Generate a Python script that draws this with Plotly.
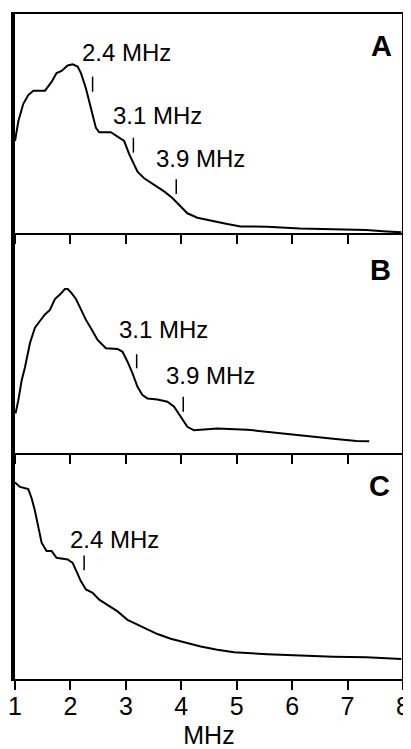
import plotly.graph_objects as go

# ---------------- data (MHz, relative intensity 0..1 within each panel) ----------------
a_mhz = [1.00, 1.06, 1.15, 1.24, 1.33, 1.54, 1.66, 1.75, 1.84, 1.95, 2.04, 2.13, 2.19, 2.28, 2.37,
         2.46, 2.52, 2.73, 2.85, 2.97, 3.06, 3.15, 3.21, 3.33, 3.51, 3.69, 3.84, 3.99, 4.11, 4.29,
         4.53, 4.83, 5.07, 5.55, 6.14, 6.74, 7.34, 7.64, 7.97]
a_int = [0.42, 0.51, 0.59, 0.63, 0.65, 0.65, 0.69, 0.73, 0.74, 0.765, 0.77, 0.76, 0.73, 0.66, 0.57,
         0.48, 0.46, 0.46, 0.44, 0.42, 0.36, 0.31, 0.28, 0.25, 0.22, 0.19, 0.16, 0.12, 0.09, 0.07,
         0.056, 0.041, 0.030, 0.029, 0.020, 0.017, 0.014, 0.008, 0.003]

b_mhz = [1.01, 1.06, 1.12, 1.18, 1.27, 1.36, 1.45, 1.54, 1.63, 1.72, 1.81, 1.90, 1.95, 2.01, 2.10,
         2.19, 2.28, 2.37, 2.49, 2.64, 2.85, 2.94, 3.03, 3.12, 3.21, 3.30, 3.39, 3.57, 3.75, 3.87,
         3.99, 4.11, 4.23, 4.65, 5.19, 5.55, 6.14, 6.74, 7.16, 7.39]
b_int = [0.18, 0.24, 0.33, 0.39, 0.50, 0.57, 0.60, 0.63, 0.65, 0.70, 0.72, 0.745, 0.745, 0.73, 0.70,
         0.65, 0.605, 0.567, 0.514, 0.476, 0.473, 0.46, 0.415, 0.362, 0.301, 0.263, 0.248, 0.243, 0.233, 0.21,
         0.164, 0.119, 0.103, 0.111, 0.106, 0.096, 0.081, 0.065, 0.055, 0.053]

c_mhz = [1.00, 1.09, 1.24, 1.30, 1.36, 1.42, 1.48, 1.57, 1.66, 1.75, 1.84, 1.95, 2.04, 2.10, 2.19,
         2.28, 2.40, 2.52, 2.67, 2.85, 3.03, 3.21, 3.39, 3.57, 3.81, 4.05, 4.35, 4.65, 4.95, 5.55,
         6.14, 6.74, 7.34, 7.97]
c_int = [0.87, 0.85, 0.84, 0.80, 0.744, 0.677, 0.603, 0.566, 0.566, 0.536, 0.533, 0.529, 0.514, 0.484, 0.432,
         0.396, 0.381, 0.351, 0.329, 0.299, 0.262, 0.240, 0.218, 0.199, 0.178, 0.163, 0.144, 0.129, 0.118, 0.110,
         0.104, 0.099, 0.096, 0.089]

# feature markers: (position MHz, bottom, top) and labels (text, x, y)
a_marks = [(2.40, 0.645, 0.714), (3.136, 0.367, 0.435), (3.909, 0.178, 0.245)]
a_labels = [("2.4 MHz", 2.18, 0.826), ("3.1 MHz", 2.73, 0.537), ("3.9 MHz", 3.50, 0.339)]
b_marks = [(3.195, 0.385, 0.449), (4.035, 0.188, 0.256)]
b_labels = [("3.1 MHz", 2.84, 0.563), ("3.9 MHz", 3.69, 0.351)]
c_marks = [(2.247, 0.481, 0.547)]
c_labels = [("2.4 MHz", 1.95, 0.618)]
panel_letters = [("A", 7.61, 0.856), ("B", 7.59, 0.830), ("C", 7.57, 0.855)]

tick_vals = [1, 2, 3, 4, 5, 6, 7, 8]
tick_text = ["1", "2", "3", "4", "5", "6", "7", "8"]

FONT = "Liberation Sans, Arial, sans-serif"

fig = go.Figure()
panels = [("x", "y", a_mhz, a_int, a_marks, a_labels),
          ("x2", "y2", b_mhz, b_int, b_marks, b_labels),
          ("x3", "y3", c_mhz, c_int, c_marks, c_labels)]

annotations = []
for i, (xa, ya, xs, ys, marks, labels) in enumerate(panels):
    fig.add_trace(go.Scatter(x=xs, y=ys, xaxis=xa, yaxis=ya, mode="lines",
                             line=dict(color="black", width=2), showlegend=False, hoverinfo="skip"))
    for (m, y0, y1) in marks:
        fig.add_trace(go.Scatter(x=[m, m], y=[y0, y1], xaxis=xa, yaxis=ya, mode="lines",
                                 line=dict(color="black", width=1.5), showlegend=False, hoverinfo="skip"))
    for (t, x, y) in labels:
        annotations.append(dict(text=t, x=x, y=y, xref=xa, yref=ya, xanchor="left", yanchor="middle",
                                showarrow=False, font=dict(family=FONT, size=24, color="black")))
    L, lx, ly = panel_letters[i]
    annotations.append(dict(text="<b>%s</b>" % L, x=lx, y=ly, xref=xa, yref=ya, xanchor="center",
                            yanchor="middle", showarrow=False,
                            font=dict(family=FONT, size=29, color="black")))

# the page body has an 8px margin, so the figure is 8px smaller and offset
H = 665.0
dA = [(679 - 233) / H, 1.0]
dB = [(679 - 453) / H, (679 - 233) / H]
dC = [0.0, (679 - 453) / H]

common_x = dict(range=[1, 8], showgrid=False, zeroline=False, showline=True, linecolor="black",
                linewidth=2, tickvals=tick_vals, ticktext=tick_text, tickcolor="black",
                tickwidth=2, ticklen=9, domain=[0, 1], automargin=False)
common_y = dict(range=[0, 1], showgrid=False, zeroline=False, showline=True, linecolor="black",
                linewidth=4, ticks="", showticklabels=False, automargin=False)

fig.update_layout(
    template="none",
    width=403, height=741,
    margin=dict(l=6.5, r=8, t=6, b=70, autoexpand=False),
    paper_bgcolor="white", plot_bgcolor="white",
    showlegend=False,
    xaxis=dict(common_x, anchor="y", side="bottom", ticks="outside", mirror=True, showticklabels=False),
    xaxis2=dict(common_x, anchor="y2", side="bottom", ticks="outside", showticklabels=False),
    xaxis3=dict(common_x, anchor="y3", side="bottom", ticks="outside", showticklabels=True,
                ticklabelstandoff=-5,
                tickfont=dict(family=FONT, size=25, color="black"),
                title=dict(text="MHz", font=dict(family=FONT, size=25, color="black"), standoff=7)),
    yaxis=dict(common_y, domain=dA, anchor="x"),
    yaxis2=dict(common_y, domain=dB, anchor="x2"),
    yaxis3=dict(common_y, domain=dC, anchor="x3"),
    annotations=annotations,
    shapes=[dict(type="line", xref="paper", yref="paper", x0=1, x1=1, y0=0, y1=1,
                 line=dict(color="black", width=2))],
)

fig.write_html("out.html")
